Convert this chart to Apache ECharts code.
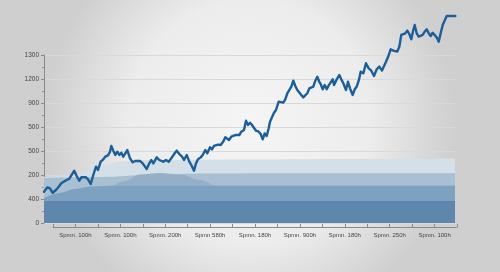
<!DOCTYPE html>
<html><head><meta charset="utf-8">
<script src="https://cdn.jsdelivr.net/npm/echarts@6/dist/echarts.min.js"></script>
<style>html,body{margin:0;padding:0;background:#e6e6e6;}#c{width:500px;height:272px;}</style>
</head><body><div id="c"></div>
<script>
// Y tick labels as printed on the chart (positions 0..1400 step 200)
const yTickLabels = ['0', '400', '200', '500', '500', '900', '1200', '1300'];
// X tick labels (on every other tick)
const xTickLabels = ['Spmn. 100h', 'Spmn. 100h', 'Spmn. 200h', 'Spmn 580h', 'Spmn. 180h', 'Spmn. 900h', 'Spmn. 180h', 'Spmn. 250h', 'Spmn. 100h'];

// Main line: time position and value
const lineT = [0,3.3,6,8.7,12,15.3,17.3,19.3,21.3,23.3,25.3,27.3,30.3,32.7,35.3,37.3,39.3,42,44,46.7,49.3,52,54,56.7,59.3,61.3,64,66,67.3,69.3,71.3,73.3,75.3,77.3,79.3,81.3,83.3,86,88.7,91.3,93.3,96,98.7,100.7,102.7,105.3,107.3,109.3,112.7,115.3,117.3,119.3,122,124.7,127.3,130.7,132.7,135.3,138,140,142.7,145.3,147.3,150,152,154,156.7,158.7,161.3,163.3,166,168,170,172,174,176.7,179.3,181.3,183.3,185,187.3,189.3,191.3,193.3,195.3,197.3,200,202,204,206,208,210,212,214.7,216.7,218.7,220.7,222.7,224.7,226,228,230,232,234.7,236.7,239.3,241.3,243.3,245.3,247.3,249.3,251.3,253.3,255.3,257.3,259.3,261.3,263.3,265.3,267.3,269.3,271.3,273.3,275.3,276.7,278.7,280.7,282.7,284.7,286.7,288.7,290,292.7,295.3,297.3,299.3,302,304,306,308.7,310.7,312.7,314.7,316.7,319.3,322,324.7,327.3,330,332.7,335.3,338,339.3,342,344,346.7,349.3,351.3,353.3,355.3,357.3,359.3,361.3,363.3,365.3,367.3,369.3,370.7,372.7,374.7,376.7,378.7,380.7,382.7,384.7,386.7,388.7,390.7,392.7,394.7,396.7,398.7,400.7,402.7,406,411.3];
const lineV = [261,297,289,252,275,308,331,325,352,342,369,358,436,392,352,381,369,381,364,325,400,469,442,511,531,553,564,594,642,603,567,594,567,586,553,539,608,539,506,517,517,517,497,492,450,497,525,497,547,525,536,511,525,511,539,581,603,575,553,525,567,511,483,436,497,531,547,567,608,581,631,614,642,631,653,650,679,714,719,692,719,706,733,747,733,761,775,853,817,836,817,817,769,761,742,697,747,725,789,844,853,919,942,1011,997,1003,1031,1081,1092,1136,1186,1142,1108,1094,1067,1047,1031,1081,1122,1131,1136,1186,1219,1177,1158,1114,1150,1114,1147,1153,1197,1150,1197,1233,1197,1164,1108,1177,1122,1067,1114,1136,1186,1261,1247,1331,1289,1269,1225,1281,1303,1271,1258,1344,1383,1447,1436,1447,1428,1469,1567,1553,1581,1603,1575,1531,1608,1650,1581,1553,1539,1567,1594,1614,1581,1558,1586,1575,1547,1511,1581,1650,1658,1725,1725,1725];

// Background bands (back to front)
const band1T = [0, 26, 46, 61, 76, 106, 206, 306, 411];
const band1V = [383, 392, 433, 483, 512, 525, 529, 533, 537];
const band2T = [0, 56, 106, 156, 256, 411];
const band2V = [375, 383, 400, 412, 414, 414];
const band3T = [0, 46, 66, 81, 96, 116, 136, 156, 173, 196, 411];
const band3V = [208, 296, 308, 350, 404, 417, 404, 358, 311, 311, 311];
const band4T = [0, 16, 31, 46, 76, 411];
const band4V = [208, 250, 283, 304, 310, 311];
const band5T = [0, 411];
const band5V = [183, 183];

const bandColors = ['#d4dfe7', '#a9bfd2', '#93b0c8', '#7da1c1', '#5f87ad'];

const zip = (a, b) => a.map((t, i) => [t, b[i]]);
const cats = [];
for (let i = 0; i < 19; i++) cats.push(i % 2 === 1 ? xTickLabels[(i - 1) / 2] : '');

const bands = [[band1T, band1V], [band2T, band2V], [band3T, band3V], [band4T, band4V], [band5T, band5V]];
const series = bands.map((b, i) => ({
  type: 'line', xAxisIndex: 0, yAxisIndex: 0, data: zip(b[0], b[1]),
  symbol: 'none', smooth: 0.35, smoothMonotone: 'x', silent: true,
  lineStyle: { width: 0 }, areaStyle: { color: bandColors[i], opacity: 1 }, z: 2 + i
}));
series.push({
  type: 'line', xAxisIndex: 0, yAxisIndex: 0, data: zip(lineT, lineV),
  symbol: 'none', clip: false, silent: true, z: 20,
  lineStyle: { color: '#1c5e98', width: 2.4, join: 'round', cap: 'round' }
});

const chart = echarts.init(document.getElementById('c'), null, { renderer: 'canvas' });
chart.setOption({
  animation: false,
  backgroundColor: {
    type: 'radial', x: 0.5, y: 0.45, r: 0.75,
    colorStops: [{ offset: 0, color: '#f5f5f5' }, { offset: 0.6, color: '#ececec' }, { offset: 1, color: '#cfcfcf' }]
  },
  textStyle: { fontFamily: 'Liberation Sans' },
  grid: [
    { left: 44, right: 45, top: 55, bottom: 49 },
    { left: 53, right: 43, top: 55, bottom: 45 }
  ],
  xAxis: [
    { gridIndex: 0, type: 'value', min: 0, max: 411, show: false },
    {
      gridIndex: 1, type: 'category', data: cats, boundaryGap: false,
      axisLine: { lineStyle: { color: '#8a8a8a', width: 1 } },
      axisTick: { inside: true, length: 3, interval: 0, lineStyle: { color: '#8a8a8a' } },
      axisLabel: { interval: 0, fontSize: 6, color: '#444', margin: 5 },
      splitLine: { show: false }
    }
  ],
  yAxis: [
    {
      gridIndex: 0, type: 'value', min: 0, max: 1400, interval: 200,
      axisLine: { show: true, lineStyle: { color: '#8a8a8a', width: 1 } },
      axisTick: { show: true, length: 3, lineStyle: { color: '#8a8a8a' } },
      minorTick: { show: true, splitNumber: 2, length: 2, lineStyle: { color: '#999' } },
      axisLabel: { fontSize: 6.5, color: '#444', margin: 5, formatter: v => yTickLabels[Math.round(v / 200)] },
      splitLine: { show: true, lineStyle: { color: '#d9d9d9', width: 1 } }
    },
    { gridIndex: 1, type: 'value', show: false }
  ],
  series: series
});
</script></body></html>
